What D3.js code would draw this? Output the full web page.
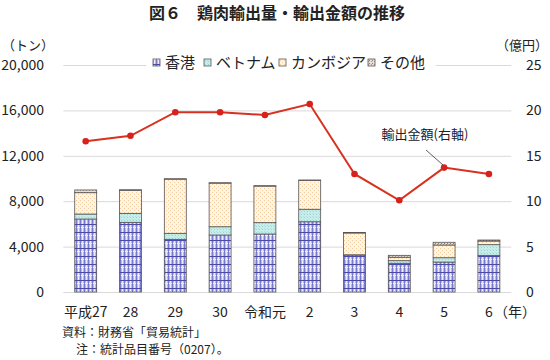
<!DOCTYPE html>
<html><head><meta charset="utf-8">
<script src="https://cdn.jsdelivr.net/npm/d3@7"></script>
<style>
body{margin:0;background:#fff;}
text{font-family:"Noto Sans CJK JP","Noto Sans",sans-serif;fill:#222;}
</style></head>
<body><svg id="c" width="550" height="360"></svg>
<script>
const years = ["平成27","28","29","30","令和元","2","3","4","5","6"];
const seriesNames = ["香港","ベトナム","カンボジア","その他"];
const hongKong = [6430, 6140, 4640, 5020, 5110, 6190, 3260, 2530, 2640, 3230];
const vietnam  = [440, 790, 530, 730, 1000, 1100, 20, 230, 380, 940];
const cambodia = [1880, 2030, 4770, 3840, 3220, 2540, 1920, 300, 1120, 320];
const others   = [240, 50, 40, 40, 40, 40, 40, 170, 240, 90];
const exportValue = [16.6, 17.2, 19.8, 19.8, 19.5, 20.7, 13.0, 10.1, 13.7, 13.0];
const leftTicks = [0, 4000, 8000, 12000, 16000, 20000];
const rightTicks = [0, 5, 10, 15, 20, 25];

const svg = d3.select("#c");
const defs = svg.append("defs");

function pat(id, w, h, build){
  const p = defs.append("pattern").attr("id", id).attr("patternUnits","userSpaceOnUse").attr("width", w).attr("height", h);
  build(p);
}
pat("pHK", 4, 8, p=>{
  p.append("rect").attr("width",4).attr("height",8).attr("fill","#b6b6ea");
  p.append("rect").attr("x",2).attr("width",1).attr("height",8).attr("fill","#ececfc");
  p.append("rect").attr("y",3).attr("width",4).attr("height",1).attr("fill","#ececfc");
  p.append("rect").attr("x",0).attr("width",1).attr("height",8).attr("fill","#7a7acc");
  p.append("rect").attr("y",0).attr("width",4).attr("height",1).attr("fill","#4a4aa6");
});
pat("pVN", 3, 3, p=>{
  p.append("rect").attr("width",3).attr("height",3).attr("fill","#c8eeec");
  p.append("rect").attr("x",1).attr("y",1).attr("width",1).attr("height",1).attr("fill","#98d4d1");
  p.append("rect").attr("x",0).attr("y",0).attr("width",1).attr("height",1).attr("fill","#b0e0dd");
});
pat("pKH", 4, 4, p=>{
  p.append("rect").attr("width",4).attr("height",4).attr("fill","#fef5e6");
  p.append("rect").attr("x",0).attr("y",0).attr("width",1).attr("height",1).attr("fill","#f5cc9c");
  p.append("rect").attr("x",2).attr("y",2).attr("width",1).attr("height",1).attr("fill","#f5cc9c");
});
pat("pOT", 3, 3, p=>{
  p.append("rect").attr("width",3).attr("height",3).attr("fill","#eadfd6");
  p.append("rect").attr("x",0).attr("y",0).attr("width",1).attr("height",1).attr("fill","#8e7a70");
  p.append("rect").attr("x",2).attr("y",1).attr("width",1).attr("height",1).attr("fill","#b09a90");
});
const fills = ["url(#pHK)","url(#pVN)","url(#pKH)","url(#pOT)"];

const x = d3.scaleBand().domain(years).range([63.3, 511.3]).paddingInner(0.51).paddingOuter(0.255);
const yL = d3.scaleLinear().domain([0, 20000]).range([292, 65]);
const yR = d3.scaleLinear().domain([0, 25]).range([292, 65]);

svg.append("g").selectAll("line").data(leftTicks).join("line")
  .attr("x1", 63.3).attr("x2", 511.3)
  .attr("y1", d=>yL(d)+0.5).attr("y2", d=>yL(d)+0.5)
  .attr("stroke", "#d9d9d9").attr("stroke-width", 1);

svg.append("g").selectAll("text").data(leftTicks).join("text")
  .attr("x", 44).attr("y", d=>yL(d)).attr("dy","0.35em")
  .attr("text-anchor","end").attr("font-size", 14).text(d3.format(","));
svg.append("g").selectAll("text").data(rightTicks).join("text")
  .attr("x", 526).attr("y", d=>yR(d)).attr("dy","0.35em")
  .attr("text-anchor","start").attr("font-size", 14).text(d=>d);

const rows = years.map((yr,i)=>({year:yr, 0:hongKong[i], 1:vietnam[i], 2:cambodia[i], 3:others[i]}));
const stack = d3.stack().keys([0,1,2,3])(rows);
const gb = svg.append("g");
stack.forEach((layer, k)=>{
  gb.append("g").selectAll("rect").data(layer).join("rect")
    .attr("x", d=>x(d.data.year)).attr("width", x.bandwidth())
    .attr("y", d=>yL(d[1])).attr("height", d=>Math.max(0, yL(d[0])-yL(d[1])))
    .attr("fill", fills[k]).attr("stroke", "#555").attr("stroke-width", 0.8);
});

const lg = svg.append("g");
lg.append("rect").attr("x", 146).attr("y", 55).attr("width", 290).attr("height", 17).attr("fill","#fff");
const legendX = [153, 204, 279, 368];
seriesNames.forEach((n,k)=>{
  lg.append("rect").attr("x", legendX[k]).attr("y", 59).attr("width", 7).attr("height", 7)
    .attr("fill", fills[k]).attr("stroke","#555").attr("stroke-width",0.8);
  lg.append("text").attr("x", legendX[k]+12).attr("y", 63).attr("dy","0.36em")
    .attr("font-size", 15).text(n);
});

const cx = d=>x(d)+x.bandwidth()/2;
const line = d3.line().x((d,i)=>cx(years[i])).y(d=>yR(d));
svg.append("path").datum(exportValue).attr("d", line)
  .attr("fill","none").attr("stroke","#d8311f").attr("stroke-width",2);
svg.append("g").selectAll("circle").data(exportValue).join("circle")
  .attr("cx",(d,i)=>cx(years[i])).attr("cy", d=>yR(d)).attr("r",3.3)
  .attr("fill","#d8211c");

svg.append("text").attr("x", 425).attr("y", 134).attr("dy","0.35em").attr("text-anchor","middle")
  .attr("font-size", 13).text("輸出金額(右軸)");
svg.append("line").attr("x1", 426).attr("y1", 150).attr("x2", 443).attr("y2", 165)
  .attr("stroke","#333").attr("stroke-width",0.8);

svg.append("g").selectAll("text").data(years).join("text")
  .attr("x", d=>cx(d)).attr("y", 312).attr("dy","0.35em").attr("text-anchor","middle")
  .attr("font-size", 14).text(d=>d);
svg.append("text").attr("x", cx("6")+5).attr("y", 312).attr("dy","0.35em")
  .attr("font-size", 14).text("（年）");

svg.append("text").attr("x", 277).attr("y", 13).attr("dy","0.35em").attr("text-anchor","middle")
  .attr("font-size", 16).attr("font-weight","bold").text("図６　鶏肉輸出量・輸出金額の推移");
svg.append("text").attr("x", 2).attr("y", 45).attr("dy","0.35em").attr("font-size", 13).text("（トン）");
svg.append("text").attr("x", 548).attr("y", 45).attr("dy","0.35em").attr("text-anchor","end").attr("font-size", 13).text("（億円）");

svg.append("text").attr("x", 62).attr("y", 333).attr("dy","0.35em").attr("font-size", 12).text("資料：財務省「貿易統計」");
svg.append("text").attr("x", 76).attr("y", 350).attr("dy","0.35em").attr("font-size", 12).text("注：統計品目番号（0207）。");
</script></body></html>
